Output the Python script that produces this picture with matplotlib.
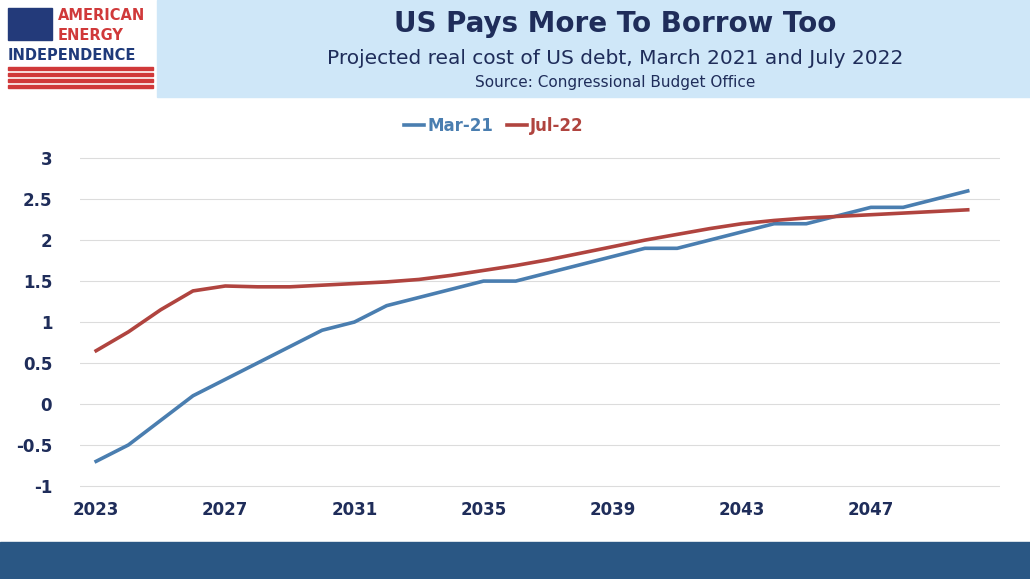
import matplotlib.pyplot as plt
from matplotlib.patches import Rectangle

years = list(range(2023, 2051))
mar21 = [-0.7, -0.5, -0.2, 0.1, 0.3, 0.5, 0.7, 0.9, 1.0, 1.2, 1.3, 1.4, 1.5, 1.5,
         1.6, 1.7, 1.8, 1.9, 1.9, 2.0, 2.1, 2.2, 2.2, 2.3, 2.4, 2.4, 2.5, 2.6]
jul22 = [0.65, 0.88, 1.15, 1.38, 1.44, 1.43, 1.43, 1.45, 1.47, 1.49, 1.52, 1.57, 1.63, 1.69,
         1.76, 1.84, 1.92, 2.0, 2.07, 2.14, 2.2, 2.24, 2.27, 2.29, 2.31, 2.33, 2.35, 2.37]
yticks = [3, 2.5, 2, 1.5, 1, 0.5, 0, -0.5, -1]
xticks = [2023, 2027, 2031, 2035, 2039, 2043, 2047]

W, H = 1030, 579
fig = plt.figure(figsize=(W / 100, H / 100), dpi=100)
navy = '#1f2d5a'

# header
fig.patches.append(Rectangle((157 / W, 1 - 97 / H), 1 - 157 / W, 97 / H,
                             transform=fig.transFigure, color='#cfe7f8', zorder=0))
fig.text(0.597, 1 - 24 / H, 'US Pays More To Borrow Too', ha='center', va='center',
         fontsize=20, fontweight='bold', color=navy)
fig.text(0.597, 1 - 58 / H, 'Projected real cost of US debt, March 2021 and July 2022',
         ha='center', va='center', fontsize=14.5, color=navy)
fig.text(0.597, 1 - 83 / H, 'Source: Congressional Budget Office',
         ha='center', va='center', fontsize=11, color=navy)

# logo
fig.patches.append(Rectangle((8 / W, 1 - 40 / H), 44 / W, 32 / H,
                             transform=fig.transFigure, color='#233a7a'))
for i in range(4):
    fig.patches.append(Rectangle((8 / W, 1 - (70 + i * 6) / H), 145 / W, 3 / H,
                                 transform=fig.transFigure, color='#d0393a'))
fig.text(58 / W, 1 - 16 / H, 'AMERICAN', fontsize=10.5, fontweight='bold', color='#d0393a', va='center')
fig.text(58 / W, 1 - 36 / H, 'ENERGY', fontsize=10.5, fontweight='bold', color='#d0393a', va='center')
fig.text(8 / W, 1 - 56 / H, 'INDEPENDENCE', fontsize=10.5, fontweight='bold', color='#1f3a7a', va='center')

# footer
fig.patches.append(Rectangle((0, 0), 1, 37 / H, transform=fig.transFigure, color='#2a5784'))

ax = fig.add_axes([80 / W, 1 - 490 / H, (1000 - 80) / W, (490 - 150) / H])
ax.plot(years, mar21, color='#4a7eb0', lw=2.6, label='Mar-21')
ax.plot(years, jul22, color='#b0443f', lw=2.6, label='Jul-22')
ax.set_ylim(-1.05, 3.1)
ax.set_xlim(2022.5, 2051)
ax.set_yticks(yticks)
ax.set_yticklabels([f'{v:g}' for v in yticks])
ax.set_xticks(xticks)
ax.grid(axis='y', color='#dcdcdc', lw=0.8)
for s in ax.spines.values():
    s.set_visible(False)
ax.tick_params(length=0, labelsize=12, labelcolor=navy, pad=8)
for lab in ax.get_xticklabels() + ax.get_yticklabels():
    lab.set_fontweight('bold')
ax.yaxis.set_tick_params(pad=20)
leg = ax.legend(loc='lower center', bbox_to_anchor=(0.45, 1.0), ncol=2, frameon=False,
                fontsize=12, handlelength=1.2, columnspacing=0.8, handletextpad=0.2)
for t, c in zip(leg.get_texts(), ['#4a7eb0', '#b0443f']):
    t.set_color(c)
    t.set_fontweight('bold')

fig.savefig('out.png', dpi=100)
